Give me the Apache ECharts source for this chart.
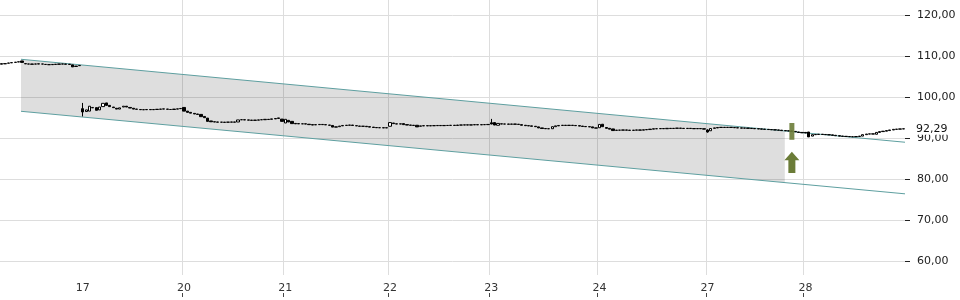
<!DOCTYPE html>
<html>
<head>
<meta charset="utf-8">
<script src="https://cdn.jsdelivr.net/npm/echarts@6/dist/echarts.min.js"></script>
<style>html,body{margin:0;padding:0;background:#fff}#c{width:960px;height:300px}</style>
</head>
<body>
<div id="c"></div>
<script>
// ---- data ----
var preDayLabel = '16';
var dayLabels = ['17', '20', '21', '22', '23', '24', '27', '28'];

// candles as [open, close] or [open, close, low, high]
var day16 = [[108.05,108.2],[108.15,108.2],[108.3,108.35],[108.4,108.45],[108.5,108.55],[108.6,108.65],[108.85,108.5],[108.2,108.15],[108.1,108.1],[108.1,108.05],[108.1,108.1],[108.15,108.1],[108.1,108.1],[108.0,108.0],[107.95,107.95],[108.0,107.95],[108.05,108.0],[108.1,108.05],[108.1,108.1],[108.1,108.05],[108.05,108.0],[107.9,107.4],[107.5,107.6],[107.7,107.75]];
var day17 = [[97.2,96.4,95.3,98.6],[96.5,96.9],[96.6,97.8],[97.4,97.5],[97.45,96.8],[96.9,97.6],[97.7,98.5],[98.6,98.0],[98.0,97.7],[97.6,97.45],[97.3,97.1],[97.1,97.4],[97.6,97.8],[97.8,97.6],[97.5,97.35],[97.3,97.1],[97.1,97.05],[97.0,96.95],[96.95,96.95],[96.95,97.0],[97.0,96.95],[96.95,97.0],[97.0,97.05],[97.05,97.1],[97.1,97.15],[97.1,97.05],[97.0,97.0],[97.0,97.1],[97.1,97.15],[97.2,97.25]];
var day20 = [[97.5,96.6],[96.6,96.3],[96.3,96.1],[96.05,95.9],[95.9,95.8],[95.8,95.25],[95.3,95.0],[94.9,94.1],[94.2,94.0],[94.0,93.95],[93.95,93.9],[93.9,93.9],[93.9,93.85],[93.9,93.9],[93.9,93.95],[93.95,93.9],[93.95,94.45],[94.5,94.5],[94.5,94.45],[94.45,94.4],[94.4,94.35],[94.35,94.4],[94.4,94.45],[94.5,94.5],[94.5,94.6],[94.6,94.55],[94.6,94.7],[94.7,94.8],[94.8,94.95],[94.65,94.1]];
var day21 = [[93.7,94.6],[94.35,93.95],[94.1,93.55],[93.6,93.5],[93.55,93.5],[93.5,93.5],[93.5,93.45],[93.4,93.3],[93.3,93.2],[93.25,93.3],[93.3,93.35],[93.35,93.3],[93.3,93.25],[93.2,93.15],[93.1,92.7],[92.75,92.7],[92.8,92.95],[93.0,93.1],[93.1,93.15],[93.15,93.2],[93.2,93.1],[93.05,93.0],[92.95,92.9],[92.9,92.9],[92.9,92.8],[92.8,92.7],[92.7,92.6],[92.6,92.55],[92.55,92.55],[92.55,92.5],[92.5,92.55]];
var day22 = [[92.9,93.8],[93.7,93.55],[93.5,93.45],[93.45,93.5],[93.55,93.3],[93.3,93.2],[93.2,93.15],[93.15,93.1],[93.15,92.75],[92.9,93.0],[93.0,93.05],[93.05,93.0],[93.0,93.05],[93.05,93.05],[93.05,93.1],[93.1,93.05],[93.05,93.1],[93.1,93.1],[93.1,93.15],[93.15,93.1],[93.1,93.2],[93.2,93.2],[93.2,93.25],[93.25,93.2],[93.2,93.25],[93.25,93.3],[93.3,93.25],[93.25,93.3],[93.3,93.3],[93.3,93.35]];
var day23 = [[93.75,93.45,93.4,94.7],[93.8,93.2],[93.15,93.6],[93.5,93.45],[93.45,93.45],[93.45,93.4],[93.4,93.45],[93.45,93.4],[93.4,93.35],[93.3,93.15],[93.15,93.05],[93.05,93.0],[93.0,92.9],[92.9,92.8],[92.75,92.5],[92.5,92.35],[92.35,92.3],[92.3,92.3],[92.3,92.8],[92.8,93.0],[93.0,93.1],[93.1,93.15],[93.15,93.1],[93.1,93.15],[93.15,93.1],[93.1,93.05],[93.05,92.95],[92.95,92.85],[92.85,92.8],[92.8,92.75],[92.75,92.5],[92.5,92.45]];
var day24 = [[92.55,93.35],[93.4,92.8],[92.6,92.4],[92.4,92.2],[92.25,91.85],[91.9,91.95],[91.95,91.95],[91.95,92.0],[92.0,91.95],[91.95,91.9],[91.9,91.95],[91.95,92.0],[92.0,91.95],[91.95,92.05],[92.05,92.1],[92.1,92.2],[92.2,92.3],[92.3,92.3],[92.3,92.35],[92.35,92.3],[92.3,92.4],[92.4,92.35],[92.35,92.4],[92.4,92.45],[92.45,92.4],[92.4,92.35],[92.35,92.4],[92.4,92.35],[92.35,92.3],[92.3,92.35],[92.35,92.3],[92.3,92.2]];
var day27 = [[92.0,91.5,91.35,92.15],[91.8,92.35],[92.4,92.5],[92.5,92.6],[92.6,92.65],[92.65,92.6],[92.6,92.65],[92.65,92.6],[92.6,92.55],[92.55,92.5],[92.5,92.45],[92.45,92.45],[92.45,92.4],[92.4,92.35],[92.35,92.3],[92.3,92.25],[92.25,92.2],[92.2,92.15],[92.15,92.1],[92.1,92.05],[92.05,92.0],[92.0,91.95],[91.95,91.85],[91.85,91.8],[91.8,91.75],[91.75,91.7],[91.65,91.55],[91.5,91.4],[91.4,91.3]];
var day28 = [[91.4,91.25],[91.5,90.3],[90.5,90.85],[90.85,90.9],[90.9,90.95],[90.95,90.9],[90.9,90.85],[90.85,90.8],[90.8,90.7],[90.7,90.6],[90.6,90.5],[90.5,90.45],[90.45,90.4],[90.4,90.35],[90.35,90.35],[90.35,90.4],[90.4,90.5],[90.5,90.85],[90.85,91.0],[91.0,91.05],[91.05,91.0],[90.95,91.4],[91.4,91.6],[91.6,91.7],[91.7,91.85],[91.85,92.0],[92.0,92.15],[92.15,92.2],[92.2,92.25],[92.25,92.29]];

var lastPrice = 92.29;
var yTicks = [60, 70, 80, 90, 100, 110, 120];

// trend channel (x in candle-index units)
var channelX = [6.22, 268];
var channelTop = [109.26, 89.0];
var channelBottom = [96.56, 76.4];
var bandX = [6.22, 232.4];
var bandTop = [109.26, 91.75];
var bandBottom = [96.56, 79.2];

// buy signal marker
var signalX = [234.5];
var signalBar = [89.6, 93.7];
var signalArrow = [81.5, 84.6, 86.7]; // shaft bottom, head base, tip

// ---- build ----
var days = [day17, day20, day21, day22, day23, day24, day27, day28];
var categories = [], candles = [], dayStart = {};
function addDay(arr, label, isLabelled) {
  arr.forEach(function (c, i) {
    if (i === 0 && isLabelled) dayStart[categories.length] = label;
    categories.push(label + '_' + i);
    if (c.length === 4) candles.push(c);
    else candles.push([c[0], c[1], Math.min(c[0], c[1]), Math.max(c[0], c[1])]);
  });
}
addDay(day16, preDayLabel, false);
days.forEach(function (d, k) { addDay(d, dayLabels[k], true); });
var N = categories.length;
var isStart = function (idx) { return dayStart.hasOwnProperty(idx); };
var fmt = function (v) { return v.toFixed(2).replace('.', ','); };
var FONT = 'DejaVu Sans';

var chart = echarts.init(document.getElementById('c'), null, {renderer: 'canvas'});
chart.setOption({
  animation: false,
  backgroundColor: '#ffffff',
  grid: [
    {left: 0, right: 55, top: 15.3, bottom: 39, outerBoundsMode: 'none'},
    {left: 0, right: 55, top: 0, bottom: 25, outerBoundsMode: 'none'},
    {left: 0, right: 55, top: 293, bottom: 3, outerBoundsMode: 'none'}
  ],
  xAxis: [
    {type: 'category', gridIndex: 0, data: categories, boundaryGap: true, show: false},
    {type: 'value', gridIndex: 0, min: 0, max: N, show: false},
    {type: 'category', gridIndex: 1, data: categories, boundaryGap: true,
      axisLine: {show: false}, axisTick: {show: false},
      axisLabel: {interval: function (i) { return isStart(i); }, formatter: function (v) { return v.split('_')[0]; },
        color: '#333', fontFamily: FONT, fontSize: 11, margin: 8},
      splitLine: {show: true, showMinLine: false, showMaxLine: false, interval: function (i) { return isStart(i); }, lineStyle: {color: '#dddddd', width: 1}}},
    {type: 'category', gridIndex: 2, data: categories, boundaryGap: true,
      axisLine: {show: false}, axisTick: {show: false}, axisLabel: {show: false},
      splitLine: {show: true, showMinLine: false, showMaxLine: false, interval: function (i) { return isStart(i); }, lineStyle: {color: '#444', width: 1}}}
  ],
  yAxis: [
    {type: 'value', gridIndex: 0, position: 'right', min: yTicks[0], max: yTicks[yTicks.length - 1], interval: 10,
      axisLine: {show: false, onZero: false}, axisTick: {show: true, length: 5, lineStyle: {color: '#222'}},
      axisLabel: {formatter: fmt, color: '#222', fontFamily: FONT, fontSize: 11, margin: 12},
      splitLine: {show: true, lineStyle: {color: '#dddddd', width: 1}}},
    {type: 'value', gridIndex: 1, min: 0, max: 1, show: false},
    {type: 'value', gridIndex: 2, min: 0, max: 1, show: false}
  ],
  series: [
    {type: 'custom', xAxisIndex: 1, yAxisIndex: 0, z: 1, silent: true,
      data: [[bandX[0], bandTop[0]]],
      renderItem: function (params, api) {
        var pts = [
          api.coord([bandX[0], bandTop[0]]),
          api.coord([bandX[1], bandTop[1]]),
          api.coord([bandX[1], bandBottom[1]]),
          api.coord([bandX[0], bandBottom[0]])
        ];
        return {type: 'polygon', shape: {points: pts}, style: {fill: 'rgba(0,0,0,0.13)'}};
      }},
    {type: 'line', xAxisIndex: 1, yAxisIndex: 0, z: 3, symbol: 'none', silent: true,
      data: [[channelX[0], channelTop[0]], [channelX[1], channelTop[1]]],
      lineStyle: {color: '#5e9fa0', width: 1}},
    {type: 'line', xAxisIndex: 1, yAxisIndex: 0, z: 3, symbol: 'none', silent: true,
      data: [[channelX[0], channelBottom[0]], [channelX[1], channelBottom[1]]],
      lineStyle: {color: '#5e9fa0', width: 1}},
    {type: 'candlestick', xAxisIndex: 0, yAxisIndex: 0, z: 4, data: candles, barWidth: '80%',
      itemStyle: {color: '#ffffff', color0: '#000000', borderColor: '#000000', borderColor0: '#000000', borderWidth: 1},
      markLine: {symbol: 'none', silent: true, animation: false,
        data: [{yAxis: lastPrice}],
        lineStyle: {color: 'rgba(0,0,0,0)', width: 0},
        label: {position: 'end', formatter: fmt(lastPrice), color: '#111', fontFamily: FONT, fontSize: 11,
          backgroundColor: '#ffffff', distance: 11, padding: [1, 2, 0, 0]}}},
    {type: 'custom', xAxisIndex: 1, yAxisIndex: 0, z: 5, silent: true,
      data: [[signalX[0], signalBar[1]]],
      renderItem: function (params, api) {
        var top = api.coord([signalX[0], signalBar[1]]);
        var bot = api.coord([signalX[0], signalBar[0]]);
        var cx = top[0];
        var tip = api.coord([signalX[0], signalArrow[2]])[1];
        var hb = api.coord([signalX[0], signalArrow[1]])[1];
        var sb = api.coord([signalX[0], signalArrow[0]])[1];
        return {type: 'group', children: [
          {type: 'rect', shape: {x: cx - 2.5, y: top[1], width: 5, height: bot[1] - top[1]},
            style: {fill: '#6b7c38', opacity: 0.9}},
          {type: 'polygon', shape: {points: [[cx, tip], [cx + 7.5, hb], [cx + 3.5, hb], [cx + 3.5, sb], [cx - 3.5, sb], [cx - 3.5, hb], [cx - 7.5, hb]]},
            style: {fill: '#6b7c38'}}
        ]};
      }}
  ]
});
</script>
</body>
</html>
